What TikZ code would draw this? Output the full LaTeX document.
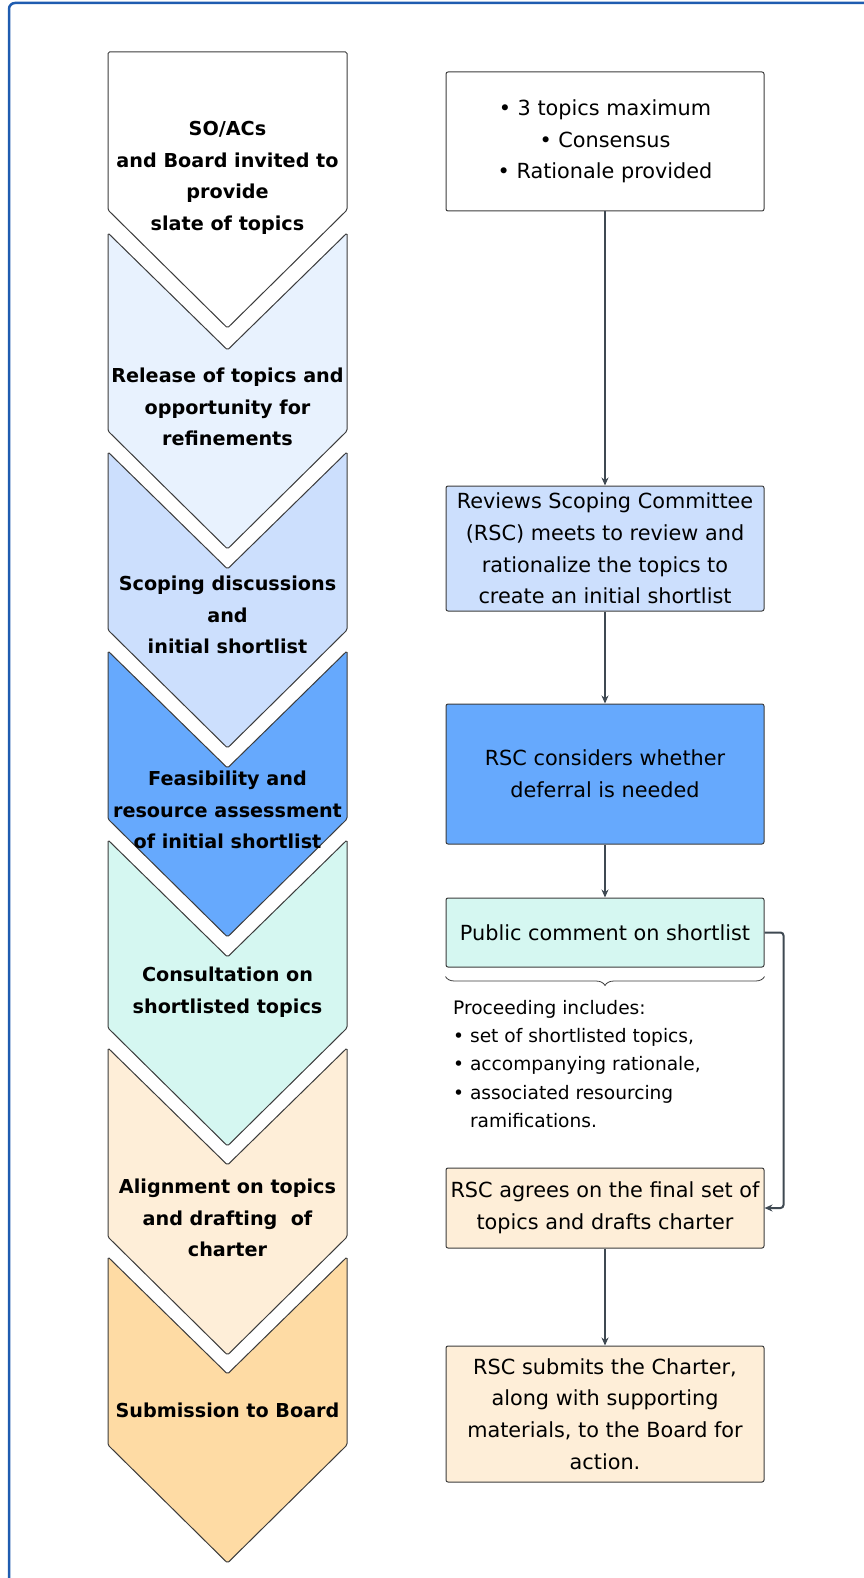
\documentclass[tikz,border=0pt]{standalone}
\usepackage{fontspec}
\setmainfont{DejaVu Sans}
\usetikzlibrary{arrows.meta,decorations.pathreplacing}

\definecolor{frameblue}{HTML}{1F5CB0}
\definecolor{edgegray}{HTML}{3C3C3C}
\definecolor{linkgray}{HTML}{3F4952}
\definecolor{paleblue}{HTML}{E8F2FE}
\definecolor{lightblue}{HTML}{CCDFFD}
\definecolor{midblue}{HTML}{66A9FD}
\definecolor{mint}{HTML}{D5F7F1}
\definecolor{cream}{HTML}{FEEED8}
\definecolor{peach}{HTML}{FEDBA4}

\tikzset{
  chevron/.style={draw=edgegray, line width=1pt, rounded corners=1.5pt},
  stage/.style={align=center, inner sep=0pt, font=\fontsize{19.2}{31.7}\selectfont\bfseries},
  box/.style={draw=edgegray, line width=1pt, rounded corners=2pt, minimum width=318pt,
    inner sep=0pt, align=center, font=\fontsize{20.8}{31.7}\selectfont},
  link/.style={draw=linkgray, line width=2pt, -{Stealth[length=8pt,width=7pt]}},
}

\begin{document}
\begin{tikzpicture}[x=1pt,y=-1pt]
  \useasboundingbox (0,0) rectangle (863,1578);

  %–– Cornice ––
  \draw[frameblue, line width=2.5pt, rounded corners=6pt] (9,3) rectangle (900,1620);

  %–– Frecce a sinistra ––
  % prima (bianca, testa piatta)
  \filldraw[chevron, fill=white]
    (108,52) -- (347,52) -- (347,210) -- (227.5,328) -- (108,210) -- cycle;
  % le altre
  \foreach \ya/\yb/\fc in {233/431/paleblue, 452/630/lightblue, 651/819/midblue,
                           840/1028/mint, 1048/1237/cream, 1257/1445/peach}
    \filldraw[chevron, fill=\fc]
      (108,\ya) -- (227.5,\ya+117) -- (347,\ya) -- (347,\yb)
      -- (227.5,\yb+118) -- (108,\yb) -- cycle;

  %–– Etichette delle fasi ––
  \node[stage] (invite)  at (227.5,178) {SO/ACs\\and Board invited to\\provide\\slate of topics};
  \node[stage] (release) at (227.5,407) {Release of topics and\\opportunity for\\refinements};
  \node[stage] (scoping) at (227.5,615) {Scoping discussions\\and\\initial shortlist};
  \node[stage] (feasib)  at (227.5,810) {Feasibility and\\resource assessment\\of initial shortlist};
  \node[stage] (consult) at (227.5,992) {Consultation on\\shortlisted topics};
  \node[stage] (align)   at (227.5,1218) {Alignment on topics\\and drafting\ \ of\\charter};
  \node[stage] (submiss) at (227.5,1410) {Submission to Board};

  %–– Riquadri a destra ––
  \node[box, fill=white, minimum height=139pt] (topics) at (605,141.5)
    {• 3 topics maximum\\• Consensus\\• Rationale provided};
  \node[box, fill=lightblue, minimum height=125pt] (rsc) at (605,548.5)
    {Reviews Scoping Committee\\(RSC) meets to review and\\rationalize the topics to\\create an initial shortlist};
  \node[box, fill=midblue, minimum height=140pt] (deferral) at (605,774)
    {RSC considers whether\\deferral is needed};
  \node[box, fill=mint, minimum height=69pt] (comment) at (605,932.5)
    {Public comment on shortlist};
  \node[box, fill=cream, minimum height=80pt] (agree) at (605,1208)
    {RSC agrees on the final set of\\topics and drafts charter};
  \node[box, fill=cream, minimum height=136pt] (submit) at (605,1414)
    {RSC submits the Charter,\\along with supporting\\materials, to the Board for\\action.};

  %–– Graffa e nota ––
  \draw[edgegray, line width=0.8pt, decorate, decoration={brace, mirror, amplitude=9pt}]
    ([yshift=-9pt]comment.south west) -- ([yshift=-9pt]comment.south east);
  \node[anchor=west, align=left, inner sep=0pt, font=\fontsize{18.6}{28.4}\selectfont]
    (proceed) at (453,1064)
    {Proceeding includes:\\• set of shortlisted topics,\\• accompanying rationale,\\• associated resourcing\\\hphantom{• }ramifications.};

  %–– Collegamenti ––
  \draw[link] (topics) -- (rsc);
  \draw[link] (rsc) -- (deferral);
  \draw[link] (deferral) -- (comment);
  \draw[link, rounded corners=3pt] (comment.east) -- ++(19,0) |- (agree.east);
  \draw[link] (agree) -- (submit);
\end{tikzpicture}
\end{document}
